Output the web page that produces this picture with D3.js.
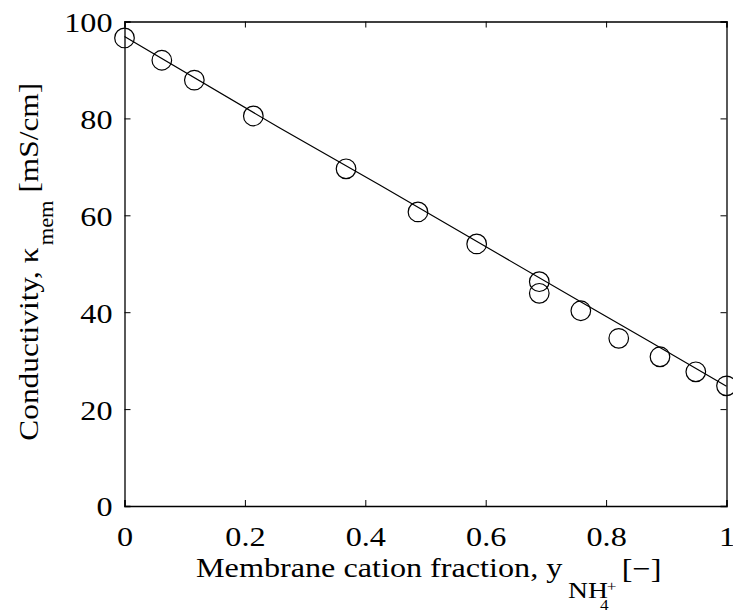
<!DOCTYPE html>
<html>
<head>
<meta charset="utf-8">
<script src="https://cdn.jsdelivr.net/npm/d3@7"></script>
<style>
body { margin: 0; background: #fff; }
text { font-family: "Liberation Serif", "Times New Roman", serif; fill: #000; }
</style>
</head>
<body>
<div id="chart"></div>
<script>
// measured points
var fracNH4 = [0, 0.062, 0.116, 0.214, 0.368, 0.4875, 0.585, 0.689, 0.689, 0.758, 0.821, 0.8895, 0.949, 1.0];
var kappa = [96.6, 92.0, 87.9, 80.5, 69.6, 60.7, 54.1, 46.3, 43.9, 40.3, 34.6, 30.8, 27.7, 24.8];

// model curve
var fitX = [0, 0.258, 0.424, 0.624, 0.757, 0.873, 1.0];
var fitY = [96.9, 78.0, 66.25, 51.8, 42.2, 33.9, 24.7];

var xTicks = [0, 0.2, 0.4, 0.6, 0.8, 1];
var yTicks = [0, 20, 40, 60, 80, 100];

var margin = { top: 21.5, right: 6.5, bottom: 105, left: 124.5 };
var svgWidth = 733;
var svgHeight = 611;
var width = svgWidth - margin.left - margin.right;
var height = svgHeight - margin.top - margin.bottom;

var svg = d3.select("#chart")
    .append("svg")
    .attr("width", svgWidth)
    .attr("height", svgHeight);

var chart = svg.append("g")
    .attr("transform", `translate(${margin.left}, ${margin.top})`);

var x = d3.scaleLinear().domain([0, 1]).range([0, width]);
var y = d3.scaleLinear().domain([0, 100]).range([height, 0]);

var tickLen = 6;
var fs = 28;
var stretch = 1.15; // matlab text renders wide

// axes, ticks pointing inward like matlab
var xBottom = chart.append("g")
    .attr("transform", `translate(0, ${height})`)
    .call(d3.axisBottom(x).tickValues(xTicks).tickSize(-tickLen).tickPadding(tickLen + 14).tickFormat(d => d));
var xTop = chart.append("g")
    .call(d3.axisTop(x).tickValues(xTicks).tickSize(-tickLen).tickFormat(""));
var yLeft = chart.append("g")
    .call(d3.axisLeft(y).tickValues(yTicks).tickSize(-tickLen).tickPadding(0).tickFormat(d => d));
var yRight = chart.append("g")
    .attr("transform", `translate(${width}, 0)`)
    .call(d3.axisRight(y).tickValues(yTicks).tickSize(-tickLen).tickFormat(""));

[xBottom, xTop, yLeft, yRight].forEach(function(g) {
    g.select(".domain").attr("stroke", "#000").attr("stroke-width", 1.3);
    g.selectAll(".tick line").attr("stroke", "#000").attr("stroke-width", 1);
    g.selectAll(".tick text")
        .style("font-family", "'Liberation Serif', serif")
        .style("font-size", fs + "px")
        .attr("fill", "#000");
});
xBottom.selectAll(".tick text").attr("transform", `scale(${stretch},1)`);
yLeft.selectAll(".tick text")
    .attr("x", 0)
    .attr("transform", `translate(-12,1) scale(${stretch},1)`);

// fitted line
var line = d3.line()
    .x(function(d, i) { return x(fitX[i]); })
    .y(function(d) { return y(d); });

chart.append("path")
    .datum(fitY)
    .attr("d", line)
    .attr("fill", "none")
    .attr("stroke", "#000")
    .attr("stroke-width", 1.2);

// data markers
chart.selectAll("circle")
    .data(kappa)
    .enter()
    .append("circle")
    .attr("cx", function(d, i) { return x(fracNH4[i]); })
    .attr("cy", function(d) { return y(d); })
    .attr("r", 9.8)
    .attr("fill", "none")
    .attr("stroke", "#000")
    .attr("stroke-width", 1.2);

// x label
var xl = svg.append("text")
    .attr("transform", `translate(196, 577) scale(${stretch},1)`)
    .style("font-size", fs + "px");
var t1 = xl.append("tspan").attr("x", 0).attr("y", 0).text("Membrane cation fraction, y");
var w1 = t1.node().getComputedTextLength() + 5;
var t2 = xl.append("tspan").attr("x", w1).attr("y", 21).style("font-size", "24px").text("NH");
var w2 = w1 + t2.node().getComputedTextLength();
xl.append("tspan").attr("x", w2 - 1).attr("y", 14).style("font-size", "15px").text("+");
xl.append("tspan").attr("x", w2 - 7).attr("y", 33).style("font-size", "15px").text("4");
xl.append("tspan").attr("x", w2 + 12).attr("y", 1).text("[\u2212]");

// y label, centred on the axis
var yl = svg.append("text")
    .style("font-size", fs + "px");
var s1 = yl.append("tspan").attr("x", 0).attr("y", 0).text("Conductivity, \u03ba");
var l1 = s1.node().getComputedTextLength() + 2;
var s2 = yl.append("tspan").attr("x", l1).attr("y", 15).style("font-size", "20px").text("mem");
var l2 = l1 + s2.node().getComputedTextLength() + 7;
var s3 = yl.append("tspan").attr("x", l2).attr("y", 0).text("[mS/cm]");
var total = (l2 + s3.node().getComputedTextLength()) * 1.12;
var yMid = margin.top + height / 2 - 2;
yl.attr("transform", `translate(38, ${yMid + total / 2}) rotate(-90) scale(1.12,1)`);
</script>
</body>
</html>
